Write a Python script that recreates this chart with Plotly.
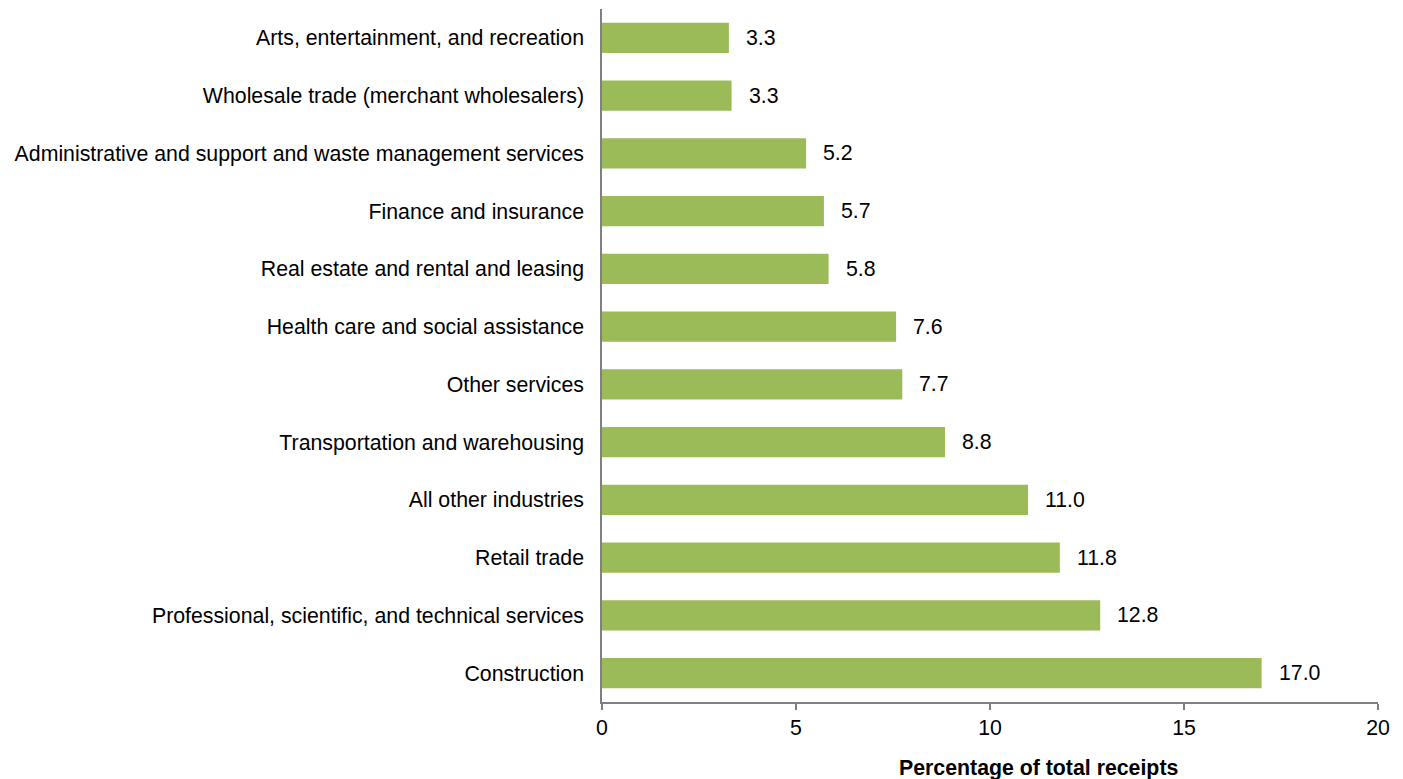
import plotly.graph_objects as go

categories = [
    "Construction",
    "Professional, scientific, and technical services",
    "Retail trade",
    "All other industries",
    "Transportation and warehousing",
    "Other services",
    "Health care and social assistance",
    "Real estate and rental and leasing",
    "Finance and insurance",
    "Administrative and support and waste management services",
    "Wholesale trade (merchant wholesalers)",
    "Arts, entertainment, and recreation",
]
values = [17.0, 12.8, 11.8, 11.0, 8.8, 7.7, 7.6, 5.8, 5.7, 5.2, 3.3, 3.3]
plot_values = [17.0, 12.84, 11.8, 10.98, 8.84, 7.74, 7.58, 5.84, 5.72, 5.26, 3.34, 3.27]
x_ticks = [0, 5, 10, 15, 20]

FONT = "Liberation Sans, Arial, sans-serif"
FS = 21.3
GREEN = "#9BBB59"

fig = go.Figure()
fig.add_trace(go.Bar(
    x=plot_values,
    y=categories,
    orientation="h",
    marker=dict(color=GREEN, line=dict(width=0)),
    width=0.52,
    hoverinfo="x+y",
))

for v, lab, c in zip(plot_values, values, categories):
    fig.add_annotation(
        x=v, y=c, xref="x", yref="y",
        text=f"{lab:.1f}", showarrow=False,
        xanchor="left", xshift=15,
        font=dict(family=FONT, size=FS, color="#000000"),
    )

fig.add_annotation(
    x=(1038 - 602) / (1378 - 602), y=-0.095, xref="paper", yref="paper",
    text="<b>Percentage of total receipts</b>", showarrow=False,
    xanchor="center", yanchor="middle",
    font=dict(family=FONT, size=FS, color="#000000"),
)

fig.update_layout(
    width=1403, height=779,
    margin=dict(l=602, r=25, t=9, b=77),
    paper_bgcolor="white", plot_bgcolor="white",
    showlegend=False,
    font=dict(family=FONT, size=FS, color="#000000"),
    xaxis=dict(
        range=[0, 20], tickvals=x_ticks,
        showgrid=False, zeroline=False,
        showline=True, linecolor="#808080", linewidth=1.5,
        ticks="outside", ticklen=6, tickcolor="#808080", tickwidth=1.5,
        tickfont=dict(family=FONT, size=FS, color="#000000"),
        fixedrange=True,
    ),
    yaxis=dict(
        showgrid=False, zeroline=False,
        showline=True, linecolor="#808080", linewidth=1.5,
        ticks="", ticklabelstandoff=12,
        tickfont=dict(family=FONT, size=FS, color="#000000"),
        categoryorder="array", categoryarray=categories,
        fixedrange=True,
    ),
)

fig.write_html(
    "out.html",
    config={"displayModeBar": False},
    post_script="document.body.style.margin='0';document.body.style.overflow='hidden';",
)
